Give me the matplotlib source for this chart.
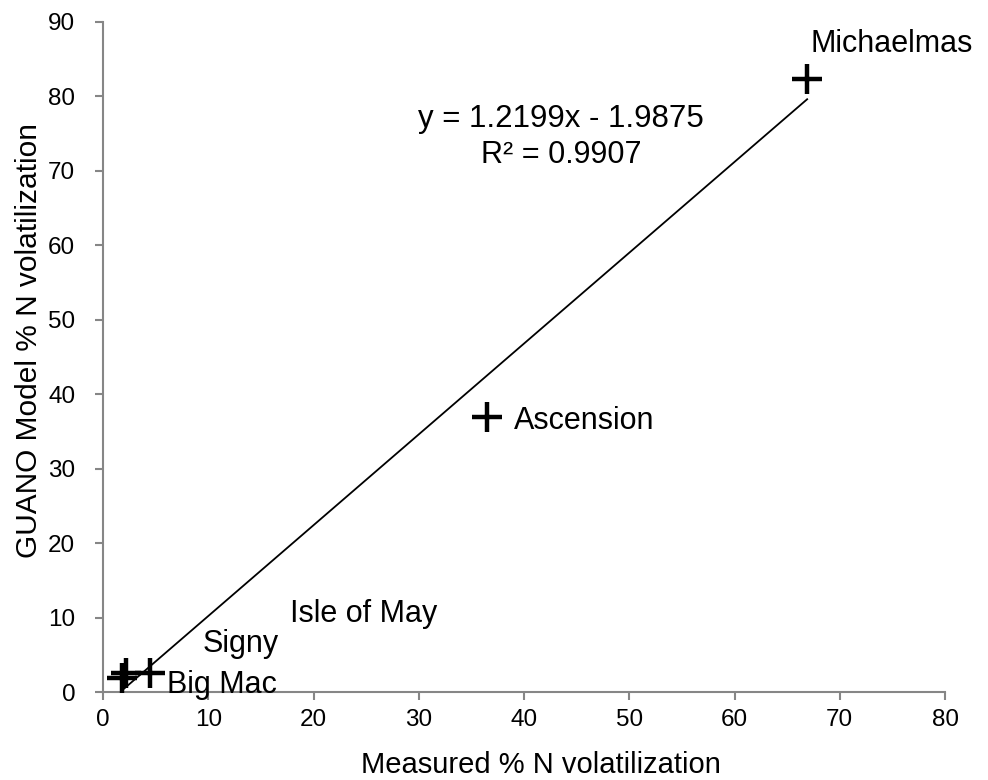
import numpy as np
import matplotlib
matplotlib.use("Agg")
import matplotlib.pyplot as plt

plt.rcParams['font.family'] = ['Liberation Sans', 'DejaVu Sans']

# Site values: measured vs GUANO model % N volatilization
sites = ["Big Mac", "Signy", "Isle of May", "Ascension", "Michaelmas"]
measured = [1.8, 2.2, 4.5, 36.5, 66.9]
modelled = [1.9, 2.6, 2.6, 37.0, 82.3]

# Linear trend line reported on the chart
slope = 1.2199
intercept = -1.9875
r_squared = 0.9907

x_ticks = [0, 10, 20, 30, 40, 50, 60, 70, 80]
y_ticks = [0, 10, 20, 30, 40, 50, 60, 70, 80, 90]

# Label anchor points (data coordinates) for each site name
label_x = [6.1, 9.5, 17.8, 39.0, 67.2]
label_y = [1.0, 6.5, 10.5, 36.4, 87.0]

fig = plt.figure(figsize=(9.88, 7.8), dpi=100)
ax = fig.add_axes([0.1043, 0.1128, 0.8522, 0.859])

grey = "#868686"

ax.plot(measured, modelled, linestyle="none", marker="+", markersize=21,
        markeredgewidth=3.2, color="black", zorder=3)

xfit = np.array([min(measured), max(measured)])
ax.plot(xfit, slope * xfit + intercept, color="black", linewidth=1.3, zorder=2)

for name, lx, ly in zip(sites, label_x, label_y):
    ax.text(lx, ly, name, fontsize=22, ha="left", va="center", color="black")

ax.text(43.5, 77.0, f"y = {slope:.4f}x - {abs(intercept):.4f}",
        fontsize=22.5, ha="center", va="center")
ax.text(43.5, 72.2, f"R² = {r_squared:.4f}", fontsize=22, ha="center", va="center")

ax.set_xlim(0, 80)
ax.set_ylim(0, 90)
ax.set_xticks(x_ticks)
ax.set_yticks(y_ticks)
ax.tick_params(axis="both", labelsize=17.5, colors=grey, length=6, width=1.5,
               direction="out", labelcolor="black")
ax.tick_params(axis="x", pad=6)
ax.tick_params(axis="y", pad=14)

for side in ["top", "right"]:
    ax.spines[side].set_visible(False)
for side in ["left", "bottom"]:
    ax.spines[side].set_color(grey)
    ax.spines[side].set_linewidth(1.5)

ax.set_xlabel("Measured % N volatilization", fontsize=21)
ax.set_ylabel("GUANO Model % N volatilization", fontsize=21.5)
ax.xaxis.set_label_coords(0.52, -0.088)
ax.yaxis.set_label_coords(-0.0713, 0.525)

fig.savefig("out.png", dpi=100)
